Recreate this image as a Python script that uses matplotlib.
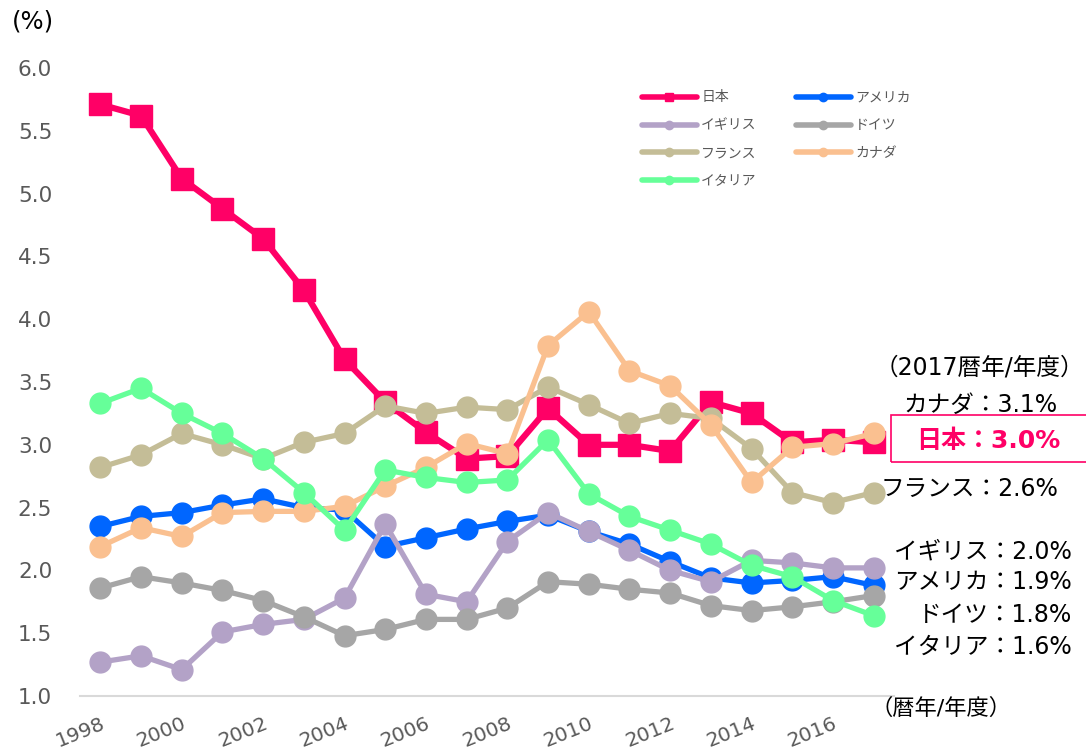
import matplotlib
matplotlib.use("Agg")
import matplotlib.pyplot as plt
from matplotlib.lines import Line2D
from matplotlib.patches import Rectangle

plt.rcParams["font.family"] = ["Noto Sans CJK JP", "DejaVu Sans"]
LATIN_FIRST = ["DejaVu Sans", "Noto Sans CJK JP"]

years = list(range(1998, 2018))

japan = [5.71, 5.62, 5.12, 4.88, 4.64, 4.23, 3.68, 3.34, 3.10, 2.89,
         2.91, 3.29, 3.00, 3.00, 2.95, 3.34, 3.25, 3.02, 3.04, 3.02]
usa = [2.35, 2.43, 2.46, 2.52, 2.57, 2.50, 2.48, 2.19, 2.26, 2.33,
       2.39, 2.44, 2.31, 2.21, 2.07, 1.94, 1.90, 1.92, 1.95, 1.88]
uk = [1.27, 1.32, 1.21, 1.51, 1.57, 1.61, 1.78, 2.37, 1.81, 1.75,
      2.23, 2.46, 2.31, 2.16, 2.00, 1.91, 2.08, 2.06, 2.02, 2.02]
germany = [1.86, 1.95, 1.90, 1.84, 1.76, 1.63, 1.48, 1.53, 1.61, 1.61,
           1.70, 1.91, 1.89, 1.85, 1.82, 1.72, 1.68, 1.71, 1.75, 1.80]
france = [2.82, 2.92, 3.09, 3.00, 2.89, 3.02, 3.09, 3.31, 3.25, 3.30,
          3.28, 3.46, 3.32, 3.17, 3.25, 3.21, 2.97, 2.62, 2.54, 2.62]
canada = [2.19, 2.34, 2.27, 2.46, 2.47, 2.47, 2.51, 2.67, 2.82, 3.01,
          2.93, 3.79, 4.06, 3.59, 3.47, 3.16, 2.70, 2.98, 3.01, 3.09]
italy = [3.33, 3.45, 3.25, 3.09, 2.89, 2.62, 2.32, 2.80, 2.74, 2.70,
         2.72, 3.04, 2.61, 2.43, 2.32, 2.21, 2.04, 1.95, 1.76, 1.64]

names = ["日本", "アメリカ", "イギリス", "ドイツ", "フランス", "カナダ", "イタリア"]
colors = ["#FF0066", "#0066FF", "#B3A2C7", "#A6A6A6", "#C4BD97", "#FAC090", "#66FF99"]
series = [japan, usa, uk, germany, france, canada, italy]

# 2017 values shown on the right (label, right edge px, centre y px)
last_labels = [
    ("カナダ：3.1%", 1058, 405),
    ("フランス：2.6%", 1058, 489),
    ("イギリス：2.0%", 1072, 552),
    ("アメリカ：1.9%", 1072, 582),
    ("ドイツ：1.8%", 1072, 615),
    ("イタリア：1.6%", 1072, 647),
]

W, H = 1086, 754
fig = plt.figure(figsize=(W / 100, H / 100), dpi=100)
ax = fig.add_axes([80 / W, 1 - 696 / H, (894 - 80) / W, (696 - 68) / H])

handles = {}
for name, color, vals in zip(names, colors, series):
    is_japan = name == "日本"
    ax.plot(years, vals, color=color,
            lw=4.5 if is_japan else 3.8,
            marker="s" if is_japan else "o",
            markersize=16 if is_japan else 15,
            solid_capstyle="round", clip_on=False)
    handles[name] = Line2D([], [], color=color, lw=4,
                           marker="s" if is_japan else "o", markersize=6,
                           solid_capstyle="round")

ax.set_xlim(1997.5, 2017.5)
ax.set_ylim(1.0, 6.0)
ax.set_yticks([1.0 + 0.5 * i for i in range(11)])
ax.set_yticklabels([f"{1.0 + 0.5 * i:.1f}" for i in range(11)],
                   family="DejaVu Sans", fontsize=15.5, color="#595959")
ax.set_xticks(list(range(1998, 2018, 2)))
ax.set_xticklabels([str(y) for y in range(1998, 2018, 2)],
                   family="DejaVu Sans", fontsize=14.5, color="#595959",
                   rotation=22, ha="right", rotation_mode="anchor")
ax.tick_params(axis="both", length=0)
ax.tick_params(axis="y", pad=20)
ax.tick_params(axis="x", pad=13)
for side in ["top", "right", "left"]:
    ax.spines[side].set_visible(False)
ax.spines["bottom"].set_color("#D9D9D9")
ax.spines["bottom"].set_linewidth(1.5)

# two-column legend, filled column by column
order = ["日本", "イギリス", "フランス", "イタリア", "アメリカ", "ドイツ", "カナダ"]
leg = fig.legend([handles[n] for n in order], order,
                 loc="upper left", bbox_to_anchor=(629 / W, 1 - 78 / H),
                 ncol=2, frameon=False, fontsize=10, handlelength=4,
                 handletextpad=0.3, columnspacing=2.8, labelspacing=1.0,
                 labelcolor="#595959")

fig.text(12 / W, 1 - 22 / H, "(%)", family=LATIN_FIRST, fontsize=17.5,
         ha="left", va="center")
fig.text(1084 / W, 1 - 368 / H, "（2017暦年/年度）", family=LATIN_FIRST,
         fontsize=17, ha="right", va="center")
for text, xpix, ypix in last_labels:
    fig.text(xpix / W, 1 - ypix / H, text, family=LATIN_FIRST, fontsize=17,
             ha="right", va="center")

fig.patches.append(Rectangle((891 / W, 1 - 462 / H), 200 / W, 47 / H,
                             transform=fig.transFigure, fill=False,
                             edgecolor="#FF0066", lw=1.2))
fig.text(988 / W, 1 - 441 / H, "日本：3.0%", family=LATIN_FIRST, fontsize=18,
         fontweight="bold", color="#FF0066", ha="center", va="center")

fig.text(1012 / W, 1 - 708 / H, "（暦年/年度）", family=LATIN_FIRST,
         fontsize=16, ha="right", va="center")

fig.savefig("out.png", dpi=100)
